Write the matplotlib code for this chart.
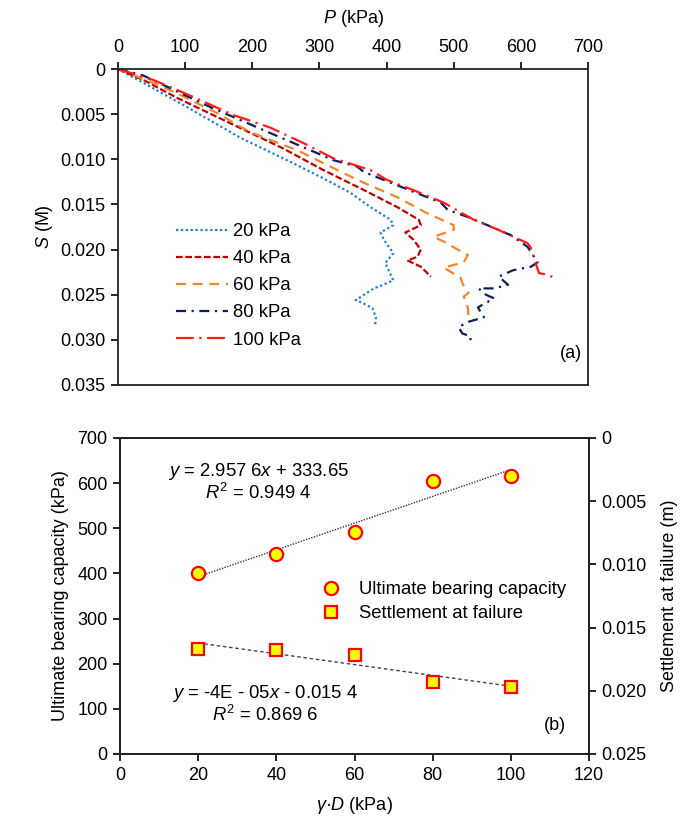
import matplotlib
matplotlib.use("Agg")
import matplotlib.pyplot as plt
import numpy as np

plt.rcParams['font.family'] = ['Liberation Sans', 'DejaVu Sans']
plt.rcParams['mathtext.fontset'] = 'custom'
plt.rcParams['mathtext.rm'] = 'Liberation Sans'
plt.rcParams['mathtext.it'] = 'Liberation Sans:italic'

# ---------------- Data: panel (a) ----------------
labels_a = ["20 kPa", "40 kPa", "60 kPa", "80 kPa", "100 kPa"]

P20 = [0, 37, 100, 182, 260, 316, 346, 376, 406, 410, 391, 396, 410, 398, 410, 401, 381, 354, 364, 379, 384, 383]
S20 = [0, 0.0015, 0.0041, 0.0076, 0.0104, 0.0125, 0.0137, 0.0153, 0.0167, 0.0173, 0.0181, 0.0189, 0.0204,
       0.0215, 0.0234, 0.0237, 0.0243, 0.0256, 0.0259, 0.0265, 0.0275, 0.0284]

P40 = [0, 40, 88, 167, 246, 306, 366, 416, 448, 451, 428, 440, 451, 446, 431, 451, 466]
S40 = [0, 0.0013, 0.0032, 0.0060, 0.0088, 0.0112, 0.0134, 0.0153, 0.0167, 0.0173, 0.0181, 0.0189, 0.0200,
       0.0208, 0.0212, 0.0219, 0.0230]

P60 = [0, 48, 88, 148, 197, 267, 346, 366, 416, 461, 500, 500, 470, 485, 506, 521, 515, 485, 496, 510, 515,
       522, 515, 521, 522]
S60 = [0, 0.0014, 0.0027, 0.0049, 0.0070, 0.0090, 0.0119, 0.0126, 0.0142, 0.0160, 0.0173, 0.0178, 0.0186,
       0.0191, 0.0200, 0.0206, 0.0214, 0.0220, 0.0225, 0.0231, 0.0241, 0.0248, 0.0252, 0.0264, 0.0275]

P80 = [0, 37, 137, 227, 321, 356, 366, 440, 481, 491, 525, 566, 585, 610, 618, 625, 615, 588, 567, 581, 560,
       537, 548, 560, 536, 545, 522, 507, 513, 525, 525]
S80 = [0, 0.0007, 0.0042, 0.0071, 0.0101, 0.0108, 0.0114, 0.0136, 0.0148, 0.0156, 0.0165, 0.0178, 0.0184,
       0.0197, 0.0206, 0.0214, 0.0219, 0.0223, 0.0230, 0.0239, 0.0243, 0.0243, 0.0250, 0.0254, 0.0264, 0.0275,
       0.0280, 0.0286, 0.0293, 0.0296, 0.0302]

P100 = [0, 52, 78, 112, 172, 227, 276, 321, 376, 401, 446, 485, 530, 566, 610, 615, 622, 627, 640, 649]
S100 = [0, 0.0012, 0.0020, 0.0031, 0.0051, 0.0065, 0.0082, 0.0099, 0.0112, 0.0123, 0.0136, 0.0148, 0.0167,
        0.0178, 0.0193, 0.0198, 0.0215, 0.0226, 0.0228, 0.0231]

# ---------------- Data: panel (b) ----------------
gammaD = [20, 40, 60, 80, 100]
ultimate = [401, 443, 492, 605, 616]
settlement = [0.01669, 0.01677, 0.01717, 0.01930, 0.01970]

eq1 = "$y$ = 2.957 6$x$ + 333.65"
r1 = "$R^2$ = 0.949 4"
eq2 = "$y$ = -4E - 05$x$ - 0.015 4"
r2 = "$R^2$ = 0.869 6"

W, H = 700, 824
fig = plt.figure(figsize=(7.0, 8.24), dpi=100)

def fx(px):
    return px / W

def fy(py):
    return 1 - py / H

fs = 13
fst = 13.3

# ---------------- Panel (a) ----------------
axa = fig.add_axes([fx(118), fy(385), fx(588) - fx(118), fy(69) - fy(385)])
series = [
    (P20, S20, "#1E7FD2", (0, (1, 1.2)), 1.6),
    (P40, S40, "#C00000", (0, (3, 1.2)), 1.6),
    (P60, S60, "#F0862E", (0, (4.5, 3)), 1.6),
    (P80, S80, "#0B1F5C", (0, (4.5, 2.5, 1, 2.5)), 1.6),
    (P100, S100, "#FF1A1A", (0, (8, 2.5, 1, 2.5)), 1.6),
]
for (P, S, c, ls, lw), lab in zip(series, labels_a):
    axa.plot(P, S, color=c, linestyle=ls, linewidth=lw, label=lab)

axa.set_xlim(0, 700)
axa.set_ylim(0.035, 0)
axa.xaxis.tick_top()
axa.xaxis.set_label_position('top')
axa.set_xticks(np.arange(0, 701, 100))
yt = np.arange(0, 0.0351, 0.005)
axa.set_yticks(yt)
axa.set_yticklabels(["0"] + ["%.3f" % v for v in yt[1:]])
axa.tick_params(axis='both', direction='out', length=5, width=1.2, labelsize=fs, pad=4)
for sp in axa.spines.values():
    sp.set_linewidth(1.3)
    sp.set_color("#222222")
axa.set_xlabel("$P$ (kPa)", fontsize=fs, labelpad=12)
axa.set_ylabel("$S$ (M)", fontsize=fs, labelpad=4)
axa.text(fx(571), fy(353), "(a)", transform=fig.transFigure, fontsize=fs, ha='center', va='center')
leg = axa.legend(loc='upper left', bbox_to_anchor=(fx(176), fy(223)), bbox_transform=fig.transFigure,
                 frameon=False, fontsize=fst,
                 handlelength=2.8, handletextpad=0.3, labelspacing=0.55, borderaxespad=0, borderpad=0)

# ---------------- Panel (b) ----------------
axb = fig.add_axes([fx(120), fy(754), fx(589) - fx(120), fy(438) - fy(754)])
axr = axb.twinx()

# trend lines (least squares from data)
xs = np.array([gammaD[0], gammaD[-1]])
c1 = np.polyfit(gammaD, ultimate, 1)
c2 = np.polyfit(gammaD, settlement, 1)
axb.plot(xs, np.polyval(c1, xs), color="#333333", linestyle=(0, (1, 1)), linewidth=1.0, zorder=2)
axr.plot(xs, np.polyval(c2, xs), color="#444444", linestyle=(0, (2.5, 2)), linewidth=1.0, zorder=2)

h1, = axb.plot(gammaD, ultimate, linestyle='none', marker='o', markersize=9.5,
               markerfacecolor="#FFFF00", markeredgecolor="#FF0000", markeredgewidth=1.6,
               label="Ultimate bearing capacity", zorder=3)
h2, = axr.plot(gammaD, settlement, linestyle='none', marker='s', markersize=8,
               markerfacecolor="#FFFF00", markeredgecolor="#FF0000", markeredgewidth=1.6,
               label="Settlement at failure", zorder=3)

axb.set_xlim(0, 120)
axb.set_ylim(0, 700)
axb.set_xticks(np.arange(0, 121, 20))
axb.set_yticks(np.arange(0, 701, 100))
axr.set_ylim(0.025, 0)
rt = np.arange(0, 0.0251, 0.005)
axr.set_yticks(rt)
axr.set_yticklabels(["0"] + ["%.3f" % v for v in rt[1:]])
for ax in (axb, axr):
    ax.tick_params(axis='both', direction='out', length=5, width=1.2, labelsize=fs, pad=4)
    for sp in ax.spines.values():
        sp.set_linewidth(1.3)
        sp.set_color("#222222")
axb.set_xlabel("$\\gamma$·$D$ (kPa)", fontsize=fs, labelpad=8)
axb.set_ylabel("Ultimate bearing capacity (kPa)", fontsize=fs, labelpad=6)
axr.set_ylabel("Settlement at failure (m)", fontsize=fs, labelpad=10)

axb.text(fx(258), fy(471), eq1, transform=fig.transFigure, fontsize=fst, ha='center', va='center')
axb.text(fx(258), fy(493), r1, transform=fig.transFigure, fontsize=fst, ha='center', va='center')
axb.text(fx(265), fy(693), eq2, transform=fig.transFigure, fontsize=fst, ha='center', va='center')
axb.text(fx(265), fy(715), r2, transform=fig.transFigure, fontsize=fst, ha='center', va='center')
axb.text(fx(555), fy(726), "(b)", transform=fig.transFigure, fontsize=fs, ha='center', va='center')

axr.legend([h1, h2], ["Ultimate bearing capacity", "Settlement at failure"],
           loc='upper left', bbox_to_anchor=(fx(320), fy(581)), bbox_transform=fig.transFigure,
           frameon=False, fontsize=fst, handlelength=1.2, handletextpad=0.9,
           labelspacing=0.4, borderaxespad=0, borderpad=0)

fig.savefig("out.png", dpi=100)
